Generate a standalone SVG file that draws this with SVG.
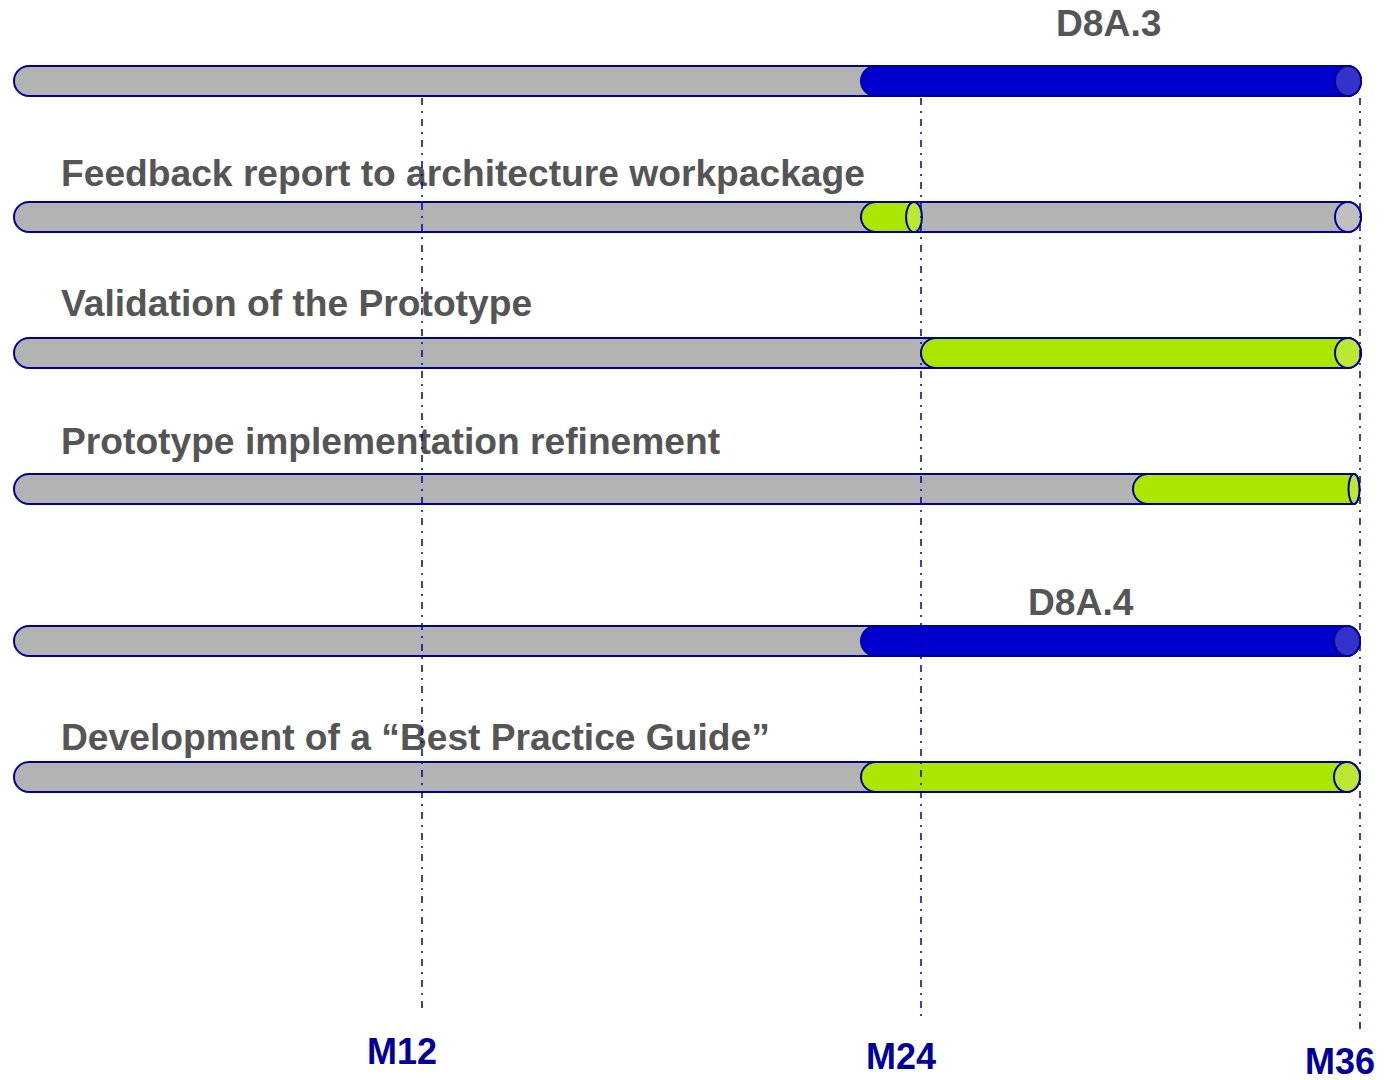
<svg xmlns="http://www.w3.org/2000/svg" width="1384" height="1080" viewBox="0 0 1384 1080">
<style>
.body{fill:#b3b3b3;stroke:#000099;stroke-width:2}
.blue{fill:#0000cc;stroke:#000099;stroke-width:2}
.bluecap{fill:#3333cc;stroke:#000099;stroke-width:2}
.green{fill:#aae600;stroke:#000099;stroke-width:2}
.greencap{fill:#bbe833;stroke:#000099;stroke-width:2}
.graycap{fill:#c0c0c0;stroke:#000099;stroke-width:2}
.lbl{font-family:"Liberation Sans",Arial,sans-serif;font-weight:bold;font-size:37.2px;fill:#555555}
.ms{font-family:"Liberation Sans",Arial,sans-serif;font-weight:bold;font-size:36px;fill:#000099}
.grid{stroke:#00009a;stroke-width:1.5;stroke-dasharray:7,6,2,6;fill:none}
</style>
<rect width="1384" height="1080" fill="#ffffff"/>

<g id="bar1">
<path class="body" d="M29,66 H1348 A13,15 0 0 1 1348,96 H29 A15,15 0 0 1 29,66 Z"/>
<path class="blue" d="M876,66 H1348 V96 H876 A15,15 0 0 1 876,66 Z"/>
<ellipse class="bluecap" cx="1348" cy="81" rx="13" ry="15"/>
<text class="lbl" x="1056" y="36">D8A.3</text>
</g>

<g id="bar2">
<path class="body" d="M29,202 H1348 A13,15 0 0 1 1348,232 H29 A15,15 0 0 1 29,202 Z"/>
<ellipse class="graycap" cx="1348" cy="217" rx="13" ry="15"/>
<path class="green" d="M876,202 H914 V232 H876 A15,15 0 0 1 876,202 Z"/>
<ellipse class="greencap" cx="914" cy="217" rx="8" ry="15"/>
<text class="lbl" x="61" y="186">Feedback report to architecture workpackage</text>
</g>

<g id="bar3">
<path class="body" d="M29,338 H1348 A13,15 0 0 1 1348,368 H29 A15,15 0 0 1 29,338 Z"/>
<path class="green" d="M936,338 H1348 V368 H936 A15,15 0 0 1 936,338 Z"/>
<ellipse class="greencap" cx="1348" cy="353" rx="13" ry="15"/>
<text class="lbl" x="61" y="316">Validation of the Prototype</text>
</g>

<g id="bar4">
<path class="body" d="M29,474 H1354 A5.5,15 0 0 1 1354,504 H29 A15,15 0 0 1 29,474 Z"/>
<path class="green" d="M1148,474 H1354 V504 H1148 A15,15 0 0 1 1148,474 Z"/>
<ellipse class="greencap" cx="1354" cy="489" rx="5.5" ry="15"/>
<text class="lbl" x="61" y="454">Prototype implementation refinement</text>
</g>

<g id="bar5">
<path class="body" d="M29,626 H1347 A13,15 0 0 1 1347,656 H29 A15,15 0 0 1 29,626 Z"/>
<path class="blue" d="M876,626 H1347 V656 H876 A15,15 0 0 1 876,626 Z"/>
<ellipse class="bluecap" cx="1347" cy="641" rx="13" ry="15"/>
<text class="lbl" x="1028" y="615">D8A.4</text>
</g>

<g id="bar6">
<path class="body" d="M29,762 H1347 A13,15 0 0 1 1347,792 H29 A15,15 0 0 1 29,762 Z"/>
<path class="green" d="M876,762 H1347 V792 H876 A15,15 0 0 1 876,762 Z"/>
<ellipse class="greencap" cx="1347" cy="777" rx="13" ry="15"/>
<text class="lbl" x="61" y="750">Development of a “Best Practice Guide”</text>
</g>

<g id="connectors">
<line class="grid" x1="422" y1="98" x2="422" y2="1012"/>
<line class="grid" x1="921" y1="98" x2="921" y2="1020"/>
<line class="grid" x1="1360" y1="98" x2="1360" y2="1030"/>
</g>

<g id="milestones">
<text class="ms" x="367" y="1064">M12</text>
<text class="ms" x="866" y="1069">M24</text>
<text class="ms" x="1305" y="1074">M36</text>
</g>
</svg>
